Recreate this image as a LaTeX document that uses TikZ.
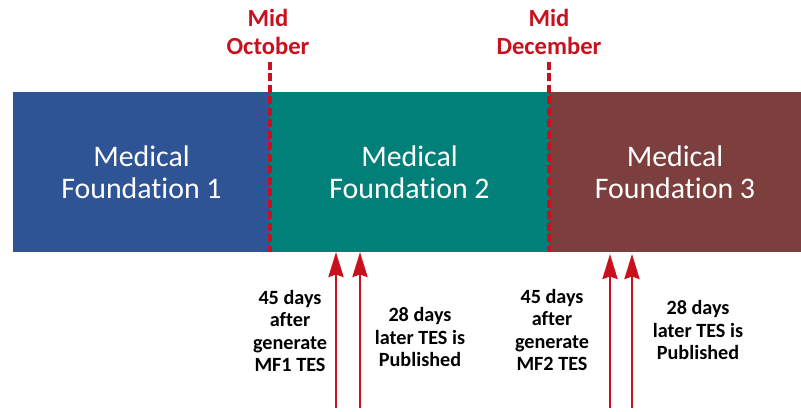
\documentclass[tikz,border=0pt]{standalone}
\usepackage{fontspec}
\setmainfont[Ligatures=NoCommon]{Carlito}
\usepackage{tikz}
\usetikzlibrary{arrows.meta, positioning, calc}
\usepackage{xcolor}
\definecolor{mfblue}{RGB}{46,84,150}
\definecolor{mfteal}{RGB}{0,128,120}
\definecolor{mfmaroon}{RGB}{125,62,62}
\definecolor{mfred}{RGB}{200,16,30}

\begin{document}
\begin{tikzpicture}[x=0.02cm, y=-0.02cm,
    bar/.style={minimum height=3.2cm, inner sep=0pt, outer sep=0pt,
      text=white, font=\fontsize{17}{18.5}\selectfont, align=center},
    month/.style={text=mfred, font=\fontsize{14}{16}\selectfont\bfseries, align=center},
    note/.style={font=\fontsize{11.5}{12.6}\selectfont\bfseries, align=center},
    cutoff/.style={mfred, line width=2.4pt, dash pattern=on 0.16cm off 0.07cm},
    milestone/.style={-{Stealth[length=0.5cm, width=0.3cm, inset=0.05cm]}, mfred, line width=1.6pt}]
  \useasboundingbox (0,0) rectangle (801,412);

  % Bars
  \node[bar, fill=mfblue, minimum width=5.14cm] (mf1) at (141.5,172) {Medical\\Foundation 1};
  \node[bar, fill=mfteal, minimum width=5.58cm] (mf2) at (409.5,172) {Medical\\Foundation 2};
  \node[bar, fill=mfmaroon, minimum width=5.04cm] (mf3) at (675,172) {Medical\\Foundation 3};

  % Cut-off months
  \node[month] (oct) at (268,32) {Mid\\October};
  \node[month] (dec) at (549,32) {Mid\\December};
  \coordinate (octtop) at (270,62);
  \coordinate (dectop) at (549,62);
  \draw[cutoff] (octtop) -- (octtop |- mf1.south);
  \draw[cutoff] (dectop) -- (dectop |- mf2.south);

  % Milestones after MF1
  \coordinate (a1) at (336,408);
  \coordinate (a2) at (360,408);
  \draw[milestone, shorten >=-0.12cm] (a1) -- ($(a1 |- mf2.south)+(0,6)$);
  \draw[milestone, shorten >=-0.12cm] (a2) -- ($(a2 |- mf2.south)+(0,6)$);
  \node[note] (gen1) at (290,331) {45 days\\after\\generate\\MF1 TES};
  \node[note] (pub1) at (420,337) {28 days\\later TES is\\Published};

  % Milestones after MF2
  \coordinate (b1) at (610,408);
  \coordinate (b2) at (632,408);
  \draw[milestone, shorten >=-0.12cm] (b1) -- ($(b1 |- mf3.south)+(0,8)$);
  \draw[milestone, shorten >=-0.12cm] (b2) -- ($(b2 |- mf3.south)+(0,8)$);
  \node[note] (gen2) at (552,330) {45 days\\after\\generate\\MF2 TES};
  \node[note] (pub2) at (698,330) {28 days\\later TES is\\Published};

\end{tikzpicture}
\end{document}
